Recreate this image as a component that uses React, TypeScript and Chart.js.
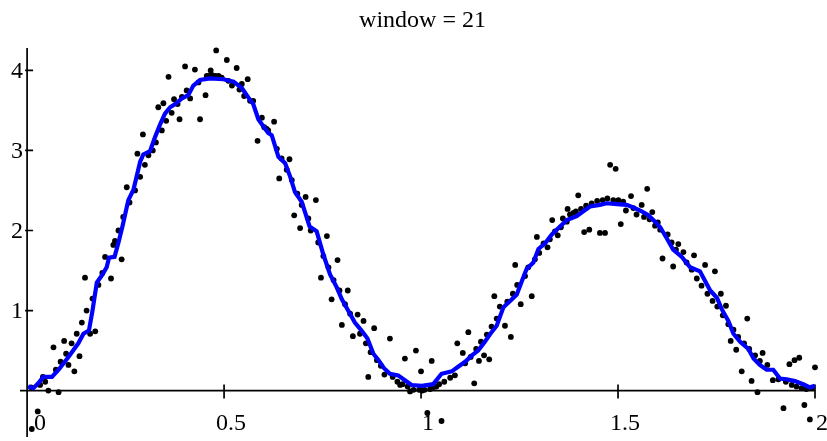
import React, { useEffect, useRef } from "react";
import { Chart, registerables } from "chart.js";

Chart.register(...registerables);

const TITLE = "window = 21";
const X_TICKS = [0, 0.5, 1, 1.5, 2];
const X_TICK_LABELS = ["0", "0.5", "1", "1.5", "2"];
const Y_TICKS = [1, 2, 3, 4];
const Y_TICK_LABELS = ["1", "2", "3", "4"];

// noisy samples (black dots)
const SAMPLE_X = [
  0.01, 0.012, 0.027, 0.033, 0.04, 0.046, 0.054, 0.067, 0.073, 0.08, 0.085, 0.094, 0.099, 0.105, 0.113, 0.12,
  0.126, 0.133, 0.139, 0.147, 0.151, 0.16, 0.166, 0.173, 0.181, 0.191, 0.198, 0.213, 0.219, 0.223, 0.232, 0.24,
  0.244, 0.253, 0.26, 0.274, 0.28, 0.287, 0.294, 0.299, 0.308, 0.319, 0.327, 0.333, 0.342, 0.346, 0.353, 0.359,
  0.367, 0.373, 0.382, 0.387, 0.393, 0.401, 0.405, 0.414, 0.426, 0.435, 0.439, 0.453, 0.456, 0.462, 0.466, 0.47,
  0.478, 0.48, 0.486, 0.494, 0.507, 0.511, 0.52, 0.532, 0.539, 0.545, 0.551, 0.56, 0.566, 0.574, 0.585, 0.596,
  0.602, 0.608, 0.612, 0.627, 0.634, 0.64, 0.646, 0.659, 0.666, 0.672, 0.678, 0.686, 0.693, 0.697, 0.707, 0.714,
  0.72, 0.733, 0.739, 0.746, 0.752, 0.761, 0.765, 0.773, 0.778, 0.788, 0.793, 0.799, 0.807, 0.814, 0.82, 0.827,
  0.839, 0.845, 0.854, 0.86, 0.866, 0.872, 0.881, 0.888, 0.898, 0.907, 0.921, 0.928, 0.94, 0.947, 0.953, 0.959,
  0.966, 0.972, 0.981, 0.987, 0.995, 1.0, 1.003, 1.009, 1.016, 1.023, 1.027, 1.031, 1.039, 1.046, 1.052, 1.059,
  1.074, 1.086, 1.092, 1.106, 1.112, 1.12, 1.126, 1.135, 1.14, 1.147, 1.152, 1.16, 1.167, 1.173, 1.179, 1.186,
  1.192, 1.2, 1.213, 1.219, 1.228, 1.233, 1.239, 1.244, 1.253, 1.264, 1.272, 1.281, 1.289, 1.294, 1.3, 1.311,
  1.321, 1.327, 1.333, 1.34, 1.347, 1.355, 1.36, 1.37, 1.372, 1.378, 1.387, 1.393, 1.399, 1.406, 1.414, 1.419,
  1.427, 1.433, 1.447, 1.454, 1.461, 1.467, 1.473, 1.48, 1.488, 1.494, 1.501, 1.507, 1.513, 1.52, 1.533, 1.539,
  1.547, 1.56, 1.566, 1.574, 1.58, 1.587, 1.594, 1.601, 1.607, 1.613, 1.626, 1.636, 1.64, 1.647, 1.653, 1.666,
  1.674, 1.687, 1.693, 1.7, 1.712, 1.721, 1.727, 1.74, 1.746, 1.752, 1.761, 1.766, 1.774, 1.78, 1.786, 1.793,
  1.8, 1.805, 1.814, 1.82, 1.828, 1.833, 1.839, 1.848, 1.854, 1.86, 1.867, 1.879, 1.893, 1.907, 1.92, 1.926,
  1.935, 1.941, 1.948, 1.953, 1.96, 1.966, 1.973, 1.978, 1.987, 1.992, 2.0,
];
const SAMPLE_Y = [
  0.04, -0.48, -0.26, 0.07, 0.17, 0.11, 0.0, 0.54, 0.26, -0.02, 0.36, 0.62, 0.46, 0.32, 0.59, 0.24,
  0.71, 0.43, 0.85, 1.41, 1.0, 0.71, 1.15, 0.74, 1.32, 1.47, 1.67, 1.4, 1.82, 1.87, 2.0, 1.64,
  2.17, 2.54, 2.35, 2.5, 2.96, 2.67, 3.2, 2.82, 2.94, 3.0, 3.1, 3.54, 3.25, 3.59, 3.37, 3.92,
  3.47, 3.64, 3.58, 3.39, 3.67, 4.05, 3.75, 3.65, 4.01, 3.85, 3.39, 3.69, 3.93, 3.93, 4.0, 3.94,
  3.93, 4.25, 3.93, 3.91, 4.13, 3.87, 3.81, 4.03, 3.76, 3.83, 3.68, 3.89, 3.62, 3.62, 3.12, 3.41,
  3.29, 3.27, 3.25, 3.36, 3.02, 2.65, 2.9, 2.76, 2.89, 2.63, 2.19, 2.46, 2.03, 2.32, 2.42, 2.15,
  2.0, 2.38, 1.85, 1.41, 1.68, 1.93, 1.54, 1.14, 1.38, 1.63, 1.25, 0.82, 1.08, 1.25, 0.96, 0.68,
  0.95, 0.71, 0.87, 0.59, 0.17, 0.48, 0.78, 0.38, 0.31, 0.2, 0.65, 0.17, 0.11, 0.07, 0.08, 0.4,
  0.05, -0.01, 0.01, 0.5, 0.01, 0.24, 0.0, 0.01, -0.28, 0.02, 0.37, 0.04, 0.05, 0.08, -0.38, 0.11,
  0.16, 0.19, 0.59, 0.47, 0.34, 0.73, 0.42, 0.09, 0.52, 0.37, 0.61, 0.44, 0.7, 0.39, 0.8, 1.18,
  0.9, 1.05, 0.81, 1.11, 0.67, 1.21, 1.57, 1.32, 1.08, 1.43, 1.54, 1.18, 1.64, 1.92, 1.72, 1.84,
  1.79, 1.89, 2.13, 1.99, 1.94, 2.04, 2.15, 2.11, 2.27, 2.2, 2.22, 2.24, 2.44, 2.27, 1.98, 2.31,
  2.01, 2.34, 2.37, 1.97, 2.38, 1.97, 2.4, 2.82, 2.38, 2.77, 2.38, 2.08, 2.36, 2.25, 2.43, 2.28,
  2.2, 2.32, 2.17, 2.52, 2.14, 2.23, 2.06, 2.1, 2.01, 1.65, 1.95, 1.85, 1.55, 1.76, 1.83, 1.73,
  1.6, 1.51, 1.69, 1.4, 1.31, 1.57, 1.21, 1.12, 1.49, 1.05, 1.21, 0.94, 1.06, 0.83, 0.62, 0.76,
  0.51, 0.67, 0.24, 0.59, 0.9, 0.52, 0.12, 0.44, -0.02, 0.37, 0.47, 0.32, 0.13, 0.14, -0.22, 0.11,
  0.33, 0.07, 0.38, 0.05, 0.41, 0.03, -0.18, 0.02, -0.36, 0.03, 0.29,
];

// smoothed curve (blue line)
const SMOOTH_X = [
  0.003, 0.016, 0.03, 0.041, 0.063, 0.08, 0.105, 0.13, 0.143, 0.157, 0.166, 0.177, 0.19, 0.202, 0.208, 0.222,
  0.232, 0.242, 0.257, 0.27, 0.287, 0.295, 0.312, 0.325, 0.338, 0.35, 0.363, 0.376, 0.393, 0.409, 0.422, 0.439,
  0.464, 0.498, 0.524, 0.545, 0.562, 0.574, 0.587, 0.6, 0.612, 0.621, 0.638, 0.655, 0.668, 0.68, 0.697, 0.717,
  0.735, 0.752, 0.769, 0.786, 0.799, 0.815, 0.832, 0.849, 0.864, 0.879, 0.892, 0.906, 0.921, 0.942, 0.959, 0.976,
  1.002, 1.031, 1.052, 1.078, 1.095, 1.112, 1.129, 1.145, 1.162, 1.179, 1.192, 1.209, 1.226, 1.243, 1.256, 1.268,
  1.285, 1.298, 1.315, 1.332, 1.353, 1.37, 1.395, 1.412, 1.429, 1.454, 1.471, 1.497, 1.522, 1.543, 1.56, 1.577,
  1.594, 1.607, 1.624, 1.64, 1.662, 1.683, 1.708, 1.721, 1.734, 1.751, 1.763, 1.78, 1.793, 1.81, 1.831, 1.844,
  1.86, 1.877, 1.894, 1.911, 1.928, 1.949, 1.97, 1.987, 2.0,
];
const SMOOTH_Y = [
  0.05, 0.03, 0.1, 0.17, 0.17, 0.26, 0.42, 0.59, 0.71, 0.75, 1.0, 1.35, 1.44, 1.54, 1.66, 1.67,
  1.85, 2.05, 2.38, 2.51, 2.86, 2.95, 2.99, 3.17, 3.33, 3.46, 3.54, 3.58, 3.65, 3.69, 3.81, 3.88,
  3.9, 3.89, 3.86, 3.78, 3.66, 3.58, 3.39, 3.3, 3.22, 3.19, 2.92, 2.84, 2.67, 2.48, 2.36, 2.05,
  1.99, 1.7, 1.45, 1.29, 1.14, 1.0, 0.85, 0.75, 0.65, 0.46, 0.38, 0.28, 0.21, 0.19, 0.13, 0.07,
  0.06, 0.08, 0.21, 0.24, 0.3, 0.36, 0.44, 0.5, 0.61, 0.73, 0.81, 1.04, 1.12, 1.2, 1.37, 1.52,
  1.6, 1.77, 1.84, 1.95, 2.05, 2.13, 2.18, 2.24, 2.3, 2.32, 2.34, 2.33, 2.32, 2.28, 2.24, 2.19,
  2.11, 2.04, 1.9, 1.76, 1.67, 1.54, 1.49, 1.37, 1.25, 1.16, 1.02, 0.87, 0.71, 0.61, 0.52, 0.4,
  0.32, 0.26, 0.26, 0.15, 0.14, 0.12, 0.08, 0.04, 0.06,
];

const FONT = '24px "Liberation Serif", "Times New Roman", serif';

const crossAxes = {
  id: "crossAxes",
  beforeDatasetsDraw(chart: any) {
    const { ctx, chartArea, scales } = chart;
    const xs = scales.x;
    const ys = scales.y;
    const x0 = xs.getPixelForValue(0);
    const y0 = ys.getPixelForValue(0);
    ctx.save();
    ctx.strokeStyle = "#000";
    ctx.lineWidth = 1.7;
    ctx.beginPath();
    ctx.moveTo(chartArea.left, y0);
    ctx.lineTo(xs.getPixelForValue(X_TICKS[X_TICKS.length - 1]), y0);
    ctx.moveTo(x0, chartArea.top);
    ctx.lineTo(x0, chartArea.bottom);
    X_TICKS.forEach((v) => {
      if (v === 0) return;
      const px = xs.getPixelForValue(v);
      ctx.moveTo(px, y0 - 6);
      ctx.lineTo(px, y0 + 8);
    });
    Y_TICKS.forEach((v) => {
      const py = ys.getPixelForValue(v);
      ctx.moveTo(x0 - 2, py);
      ctx.lineTo(x0 + 6, py);
    });
    ctx.stroke();

    ctx.fillStyle = "#000";
    ctx.font = FONT;
    ctx.textAlign = "center";
    ctx.textBaseline = "alphabetic";
    X_TICKS.forEach((v, i) => {
      const px = xs.getPixelForValue(v) + (v === 0 ? 13 : 7);
      ctx.fillText(X_TICK_LABELS[i], px, y0 + 39);
    });
    ctx.textAlign = "right";
    ctx.textBaseline = "middle";
    Y_TICKS.forEach((v, i) => {
      ctx.fillText(Y_TICK_LABELS[i], x0 - 4, ys.getPixelForValue(v) + 1);
    });
    ctx.textAlign = "center";
    ctx.textBaseline = "alphabetic";
    ctx.fillText(TITLE, (chartArea.left + chartArea.right) / 2 + 5, 27);
    ctx.restore();
  },
};

export default function App() {
  const ref = useRef<HTMLCanvasElement | null>(null);
  useEffect(() => {
    document.body.style.margin = "0";
    const canvas = ref.current;
    if (!canvas) return;
    const chart = new Chart(canvas, {
      type: "scatter",
      data: {
        datasets: [
          {
            type: "line",
            label: "smoothed",
            data: SMOOTH_X.map((x, i) => ({ x, y: SMOOTH_Y[i] })),
            borderColor: "#0000ff",
            borderWidth: 4.2,
            pointRadius: 0,
            tension: 0,
            fill: false,
            order: 0,
            clip: false,
          } as any,
          {
            type: "scatter",
            label: "samples",
            data: SAMPLE_X.map((x, i) => ({ x, y: SAMPLE_Y[i] })),
            backgroundColor: "#000",
            borderWidth: 0,
            pointRadius: 2.9,
            order: 1,
            clip: false,
          } as any,
        ],
      },
      options: {
        responsive: false,
        devicePixelRatio: 1,
        animation: false,
        layout: { padding: { left: 20, right: 12, top: 48, bottom: 0 } },
        plugins: {
          legend: { display: false },
          tooltip: { enabled: false },
          title: { display: false },
        },
        scales: {
          x: { type: "linear", min: -0.018, max: 2, display: false },
          y: { type: "linear", min: -0.58, max: 4.28, display: false },
        },
      },
      plugins: [crossAxes],
    });
    return () => chart.destroy();
  }, []);
  return (
    <div style={{ position: "absolute", left: 0, top: 0, width: 827, height: 441 }}>
      <canvas ref={ref} width={827} height={441} style={{ display: "block" }} />
    </div>
  );
}
